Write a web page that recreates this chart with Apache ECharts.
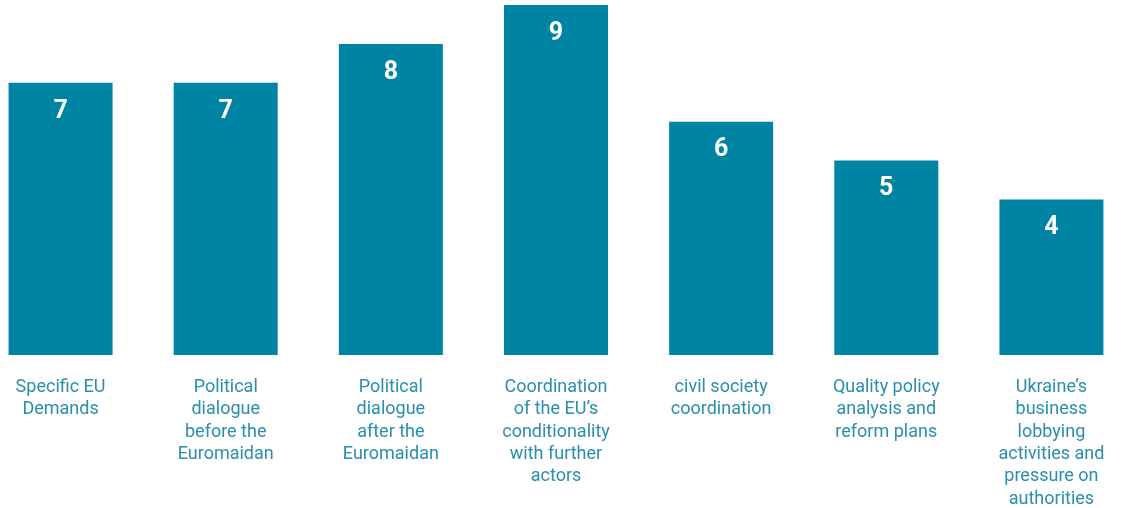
<!DOCTYPE html>
<html>
<head>
<meta charset="utf-8">
<script src="https://cdn.jsdelivr.net/npm/echarts@6/dist/echarts.min.js"></script>
<style>
  html, body { margin: 0; padding: 0; background: #ffffff; overflow: hidden; }
  #wrap { width: 1123px; height: 508px; overflow: hidden; position: relative; }
  /* plot area runs slightly past both page edges */
  #chart { width: 1156px; height: 508px; position: absolute; left: -21.8px; top: 0; }
</style>
</head>
<body>
<div id="wrap"><div id="chart"></div></div>
<script>
// Factors named as relevant, number of mentions
const categories = [
  'Specific EU\nDemands',
  'Political\ndialogue\nbefore the\nEuromaidan',
  'Political\ndialogue\nafter the\nEuromaidan',
  'Coordination\nof the EU\u2019s\nconditionality\nwith further\nactors',
  'civil society\ncoordination',
  'Quality policy\nanalysis and\nreform plans',
  'Ukraine\u2019s\nbusiness\nlobbying\nactivities and\npressure on\nauthorities'
];
const mentions = [7, 7, 8, 9, 6, 5, 4];

const chart = echarts.init(document.getElementById('chart'), null, { renderer: 'canvas' });
chart.setOption({
  backgroundColor: '#ffffff',
  animation: false,
  grid: { left: 0, right: 0, top: 5, bottom: 153, outerBoundsMode: 'none', containLabel: false },
  xAxis: {
    type: 'category',
    data: categories,
    axisLine: { show: false },
    axisTick: { show: false },
    axisLabel: {
      interval: 0,
      margin: 21,
      color: '#2b8eaa',
      fontFamily: 'Roboto, sans-serif',
      fontSize: 18,
      lineHeight: 22.4,
      align: 'center'
    }
  },
  yAxis: {
    type: 'value',
    min: 0,
    max: 9,
    show: false,
    splitLine: { show: false }
  },
  series: [{
    type: 'bar',
    data: mentions,
    barWidth: 104,
    itemStyle: { color: '#0084a3' },
    label: {
      show: true,
      position: 'insideTop',
      distance: 16,
      color: '#ffffff',
      fontFamily: 'Roboto, sans-serif',
      fontWeight: 'bold',
      fontSize: 25
    }
  }]
});
</script>
</body>
</html>
